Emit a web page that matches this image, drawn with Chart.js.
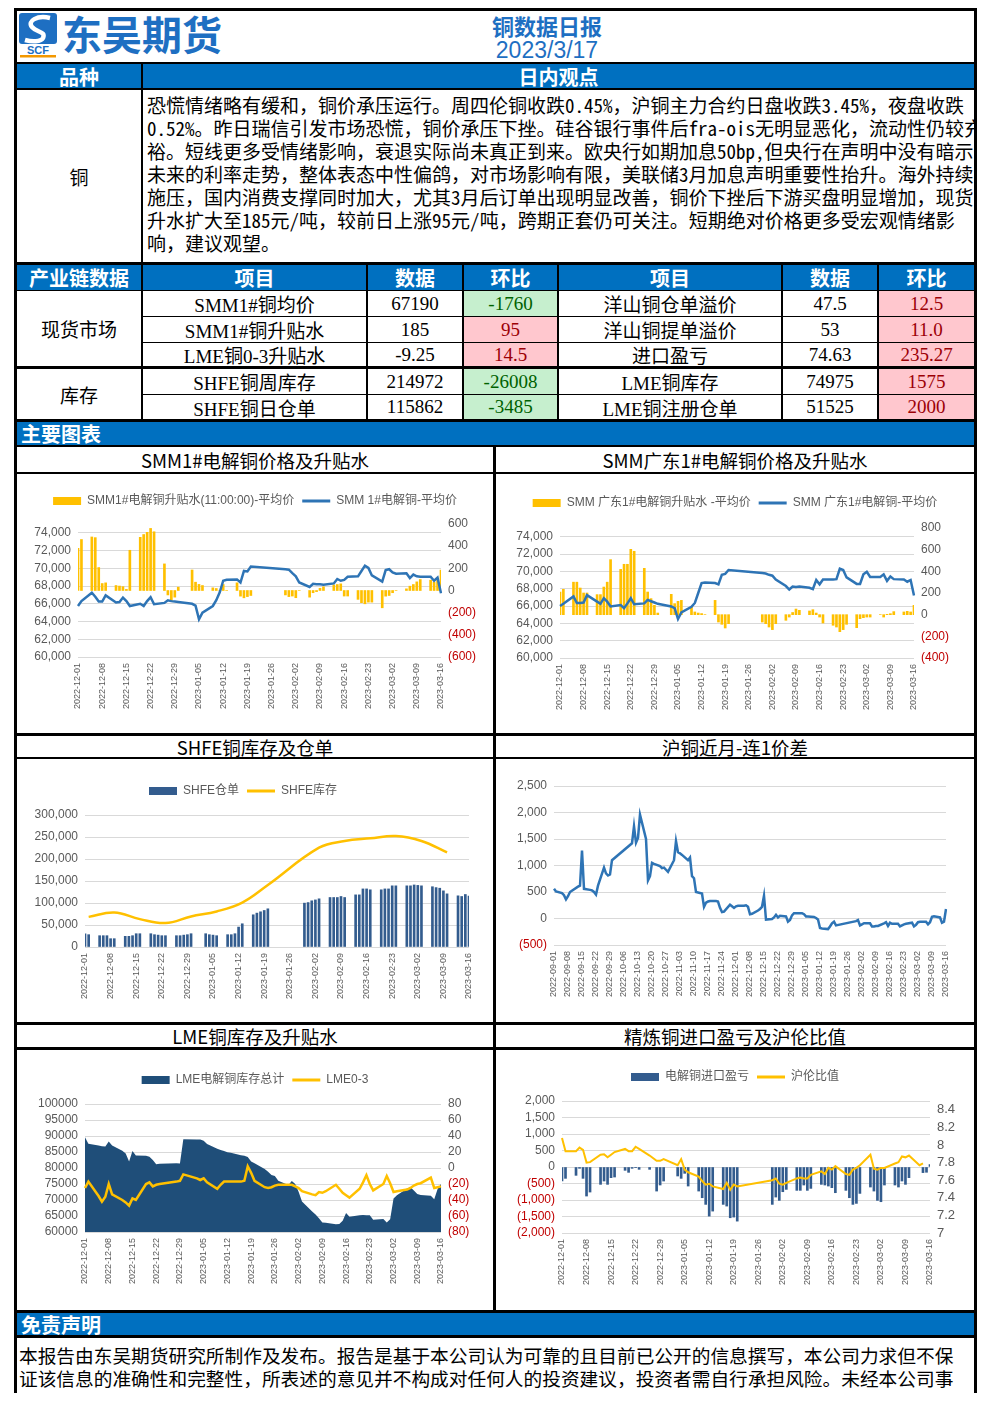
<!DOCTYPE html>
<html lang="zh-CN">
<head>
<meta charset="UTF-8">
<title>铜数据日报 2023/3/17</title>
<script src="https://cdn.jsdelivr.net/npm/chart.js@4.4.1/dist/chart.umd.min.js"></script>
<style>
  html, body { margin: 0; padding: 0; background: #fff; }
  body { position: relative; width: 992px; height: 1403px; overflow: hidden;
         font-family: "Noto Sans CJK SC", "Liberation Sans", sans-serif; color: #000; }
  .frame { position: absolute; left: 14px; top: 8px; width: 963px; height: 1385px; background: #000; }
  .c { position: absolute; background: #fff; box-sizing: border-box; overflow: hidden; white-space: nowrap;
       display: flex; align-items: center; justify-content: center; }
  .band { background: #0070C0; color: #fff; font-weight: bold; font-size: 20px; }
  .band.left { justify-content: flex-start; padding-left: 4px; }
  .title { font-size: 18.5px; }
  .td { font-family: "Liberation Serif", "Noto Sans CJK SC", serif; font-size: 19px; }
  .up { background: #FFC7CE; color: #9C0006; }
  .down { background: #C6EFCE; color: #006100; }
  .lines { display: block; font-size: 19px; line-height: 23px; }
  .hw { font-feature-settings: "hwid" 1; }
  #brand { position: absolute; left: 62px; top: 10px; font-size: 40px; line-height: 46px; font-weight: bold; color: #1E6FC2; }
  #title { position: absolute; left: 447px; width: 200px; top: 12px; text-align: center; font-size: 22px; line-height: 26px; font-weight: bold; color: #1E6FC2; }
  #date { position: absolute; left: 447px; width: 200px; top: 37px; text-align: center; font-family: "Liberation Sans", sans-serif; font-size: 23px; line-height: 26px; color: #1E6FC2; }
  canvas { display: block; }
</style>
</head>
<body>
<div class="frame"></div>

<!-- 抬头 -->
<div class="c" style="left:17px;top:11px;width:957px;height:51px"></div>
<svg style="position:absolute;left:17px;top:12px" width="44" height="46" viewBox="0 0 44 46">
  <rect x="2" y="1" width="38" height="31" rx="3" fill="#1E6FC2"/>
  <path d="M33 6 C20 3, 10 9, 15 15 C20 21, 29 19, 26 26 C24 30, 15 30, 8 28" stroke="#fff" stroke-width="4.5" fill="none"/>
  <text x="21" y="42" font-size="11" font-weight="bold" fill="#1E6FC2" text-anchor="middle" font-family="Liberation Sans">SCF</text>
  <rect x="3" y="43" width="36" height="2.5" fill="#F39800"/>
</svg>
<div id="brand">东吴期货</div>
<div id="title">铜数据日报</div>
<div id="date">2023/3/17</div>

<div class="c band" style="left:17px;top:64px;width:124px;height:24px">品种</div>
<div class="c band" style="left:143px;top:64px;width:831px;height:24px">日内观点</div>
<div class="c" style="left:17px;top:90px;width:124px;height:172px;font-size:19px">铜</div>
<div class="c lines" id="view" style="left:143px;top:90px;width:831px;height:172px;padding:3px 0 0 4px"></div>

<div class="c band left" style="left:17px;top:422px;width:957px;height:23px">主要图表</div>

<div class="c title" style="left:17px;top:447px;width:476px;height:25px">SMM1#电解铜价格及升贴水</div>
<div class="c title" style="left:496px;top:447px;width:478px;height:25px">SMM广东1#电解铜价格及升贴水</div>
<div class="c" style="left:17px;top:474px;width:476px;height:259px"><canvas id="c1" width="476" height="259"></canvas></div>
<div class="c" style="left:496px;top:474px;width:478px;height:259px"><canvas id="c2" width="478" height="259"></canvas></div>

<div class="c title" style="left:17px;top:736px;width:476px;height:21px">SHFE铜库存及仓单</div>
<div class="c title" style="left:496px;top:736px;width:478px;height:21px">沪铜近月-连1价差</div>
<div class="c" style="left:17px;top:759px;width:476px;height:263px"><canvas id="c3" width="476" height="263"></canvas></div>
<div class="c" style="left:496px;top:759px;width:478px;height:263px"><canvas id="c4" width="478" height="263"></canvas></div>

<div class="c title" style="left:17px;top:1025px;width:476px;height:22px">LME铜库存及升贴水</div>
<div class="c title" style="left:496px;top:1025px;width:478px;height:22px">精炼铜进口盈亏及沪伦比值</div>
<div class="c" style="left:17px;top:1050px;width:476px;height:260px"><canvas id="c5" width="476" height="260"></canvas></div>
<div class="c" style="left:496px;top:1050px;width:478px;height:260px"><canvas id="c6" width="478" height="260"></canvas></div>

<div class="c band left" style="left:17px;top:1313px;width:957px;height:22px">免责声明</div>
<div class="c lines" style="left:17px;top:1338px;width:957px;height:65px;padding:5px 0 0 2px;font-size:18.7px">本报告由东吴期货研究所制作及发布。报告是基于本公司认为可靠的且目前已公开的信息撰写，本公司力求但不保<br>证该信息的准确性和完整性，所表述的意见并不构成对任何人的投资建议，投资者需自行承担风险。未经本公司事</div>

<script>
// ================== 数据 ==================
function full(md) {
    return (Number(md.slice(0, 2)) >= 9 ? "2022-" : "2023-") + md;
}

// 日历轴（Excel 日期轴，每 7 天一个刻度）
function calendarDays(from, to) {
    const out = [];
    const d = new Date(from + "T00:00:00Z");
    const end = new Date(to + "T00:00:00Z");
    while (d <= end) {
        out.push(d.toISOString().slice(0, 10));
        d.setUTCDate(d.getUTCDate() + 1);
    }
    return out;
}
const winterAxis = calendarDays("2022-12-01", "2023-03-16");
const spreadAxis = calendarDays("2022-09-01", "2023-03-16");

// 纵轴刻度
const priceTicks = [60000, 62000, 64000, 66000, 68000, 70000, 72000, 74000];
const premTicks1 = [-600, -400, -200, 0, 200, 400, 600];
const premTicks2 = [-400, -200, 0, 200, 400, 600, 800];
const shfeTicks = [0, 50000, 100000, 150000, 200000, 250000, 300000];
const spreadTicks = [-500, 0, 500, 1000, 1500, 2000, 2500];
const lmeTicks = [60000, 65000, 70000, 75000, 80000, 85000, 90000, 95000, 100000];
const lme03Ticks = [-80, -60, -40, -20, 0, 20, 40, 60, 80];
const plTicks = [-2000, -1500, -1000, -500, 0, 500, 1000, 1500, 2000];
const ratioTicks = [7, 7.2, 7.4, 7.6, 7.8, 8, 8.2, 8.4];

// 国内交易日
const cnDays = [
    "12-01","12-02","12-05","12-06","12-07","12-08","12-09","12-12","12-13","12-14","12-15","12-16","12-19","12-20","12-21","12-22","12-23","12-26","12-27","12-28","12-29","12-30",
    "01-03","01-04","01-05","01-06","01-09","01-10","01-11","01-12","01-13","01-16","01-17","01-18","01-19","01-20","01-30","01-31",
    "02-01","02-02","02-03","02-06","02-07","02-08","02-09","02-10","02-13","02-14","02-15","02-16","02-17","02-20","02-21","02-22","02-23","02-24","02-27","02-28",
    "03-01","03-02","03-03","03-06","03-07","03-08","03-09","03-10","03-13","03-14","03-15","03-16"
].map(full);

// LME 交易日
const lmeDays = [
    "12-01","12-02","12-05","12-06","12-07","12-08","12-09","12-12","12-13","12-14","12-15","12-16","12-19","12-20","12-21","12-22","12-23","12-28","12-29","12-30",
    "01-03","01-04","01-05","01-06","01-09","01-10","01-11","01-12","01-13","01-16","01-17","01-18","01-19","01-20","01-23","01-24","01-25","01-26","01-27","01-30","01-31",
    "02-01","02-02","02-03","02-06","02-07","02-08","02-09","02-10","02-13","02-14","02-15","02-16","02-17","02-20","02-21","02-22","02-23","02-24","02-27","02-28",
    "03-01","03-02","03-03","03-06","03-07","03-08","03-09","03-10","03-13","03-14","03-15","03-16"
].map(full);

// 9-11 月交易日（价差图）
const autumnDays = [
    "09-01","09-02","09-05","09-06","09-07","09-08","09-09","09-13","09-14","09-15","09-16","09-19","09-20","09-21","09-22","09-23","09-26","09-27","09-28","09-29","09-30",
    "10-10","10-11","10-12","10-13","10-14","10-17","10-18","10-19","10-20","10-21","10-24","10-25","10-26","10-27","10-28","10-31",
    "11-01","11-02","11-03","11-04","11-07","11-08","11-09","11-10","11-11","11-14","11-15","11-16","11-17","11-18","11-21","11-22","11-23","11-24","11-25","11-28","11-29","11-30"
].map(full);
const spreadDays = autumnDays.concat(cnDays);

// SHFE 周度库存（周五）
const shfeWeekDays = ["12-02","12-09","12-16","12-23","12-30","01-06","01-13","01-20","02-03","02-10","02-17","02-24","03-03","03-10"].map(full);

// 图1 SMM1#
const smm1Price = [
    65750, 66300, 67250, 66800, 66250, 66250, 66950, 66150, 66200, 66700, 66300, 65750, 66000, 65750, 66300, 66750, 65950, 66100, 66400, 66300, 66250, 66200,
    66000, 65800, 64250, 65000, 65750, 66400, 67300, 68600, 68700, 68750, 68400, 69700, 69650, 70200, 69900, 69850,
    69450, 69100, 68400, 67900, 68250, 68200, 68200, 68150, 68300, 68800, 68600, 68700, 69050, 69100, 69700, 70300, 70050, 69200, 68500, 69800,
    69900, 69550, 69400, 69450, 68900, 69300, 69100, 69050, 69050, 68600, 68950, 67190
];
const smm1Premium = [
    380, 460, 483, 477, 207, 63, 69, 45, 40, 35, 10, 363, 480, 505, 525, 560, 530, 240, -40, -100, -60, 30,
    185, 75, 55, 45, 24, 18, 0, 54, 0, 69, -51, -66, -55, -45, -40, -55,
    -50, -65, 0, -60, -20, -10, 20, 33, 50, 54, 60, -50, -50, -80, -110, -120, -105, -105, -156, -51,
    -45, -20, 0, 15, 39, 54, 78, 99, 93, 75, 90, 185
];

// 图2 SMM广东1#
const gdPrice = [
    66000, 66250, 67100, 66350, 66350, 66400, 67250, 66500, 66250, 66900, 66500, 65950, 66100, 65750, 66300, 66900, 66200, 66300, 66700, 66550, 66400, 66250,
    65950, 65750, 64500, 65250, 65900, 66350, 67500, 68650, 68700, 68650, 68500, 69600, 69700, 70150, 69800, 69750,
    69600, 69500, 69050, 68300, 67900, 68250, 68200, 68250, 68100, 67950, 69000, 68500, 69050, 69050, 69100, 70300, 70150, 69300, 68550, 68550,
    69650, 69950, 69350, 69350, 69650, 68900, 69400, 69100, 69050, 68800, 69000, 67200
];
const gdPremium = [
    209, 234, 300, 300, 246, 200, 200, 185, 185, 255, 300, 508, 418, 465, 465, 603, 585, 428, 209, 148, 86, 15,
    188, 102, 123, 132, 71, 25, 15, 10, 0, 132, -68, -89, -123, -83, -68, -83,
    -114, -138, -83, -52, -22, 20, 52, 40, 34, 46, 15, -22, -77, -98, -114, -157, -138, -89, -120, -37,
    -28, -22, -22, 0, -22, 3, 9, 28, 25, 31, 25, 86
];

// 图3 SHFE
const shfeWarrant = [
    30200, 28000, 25700, 25700, 25700, 18900, 18900, 24200, 24200, 25700, 30200, 30200, 30200, 28000, 27000, 25700, 25700, 25700, 25700, 27000, 28000, 30200,
    30200, 28000, 27000, 25700, 28000, 28000, 30200, 45300, 52800, 73200, 77000, 80000, 83000, 86800, 99700, 101000,
    105000, 107000, 109500, 112500, 112500, 112500, 114800, 112500, 118500, 118500, 132000, 132000, 130000, 130000, 132000, 132000, 139000, 139000, 139000, 139000,
    141000, 140000, 139000, 137000, 135000, 133600, 127600, 120800, 116300, 114800, 119350, 115862
];
const shfeStock = [68500, 78500, 63400, 54400, 69500, 80800, 101000, 141000, 225700, 240800, 246900, 252200, 240980, 214972];

// 图4 沪铜近月-连1价差
const spread = [
    560, 510, 480, 440, 360, 420, 500, 600, 620, 1280, 560, 540, 530, 500, 450, 620, 960, 850, 810, 830, 1100,
    1420, 1740, 1430, 1520, 1960, 1500, 720, 800, 1050, 1030, 990, 950, 960, 920, 880, 1100,
    1460, 1250, 1230, 1200, 1100, 1150, 800, 760, 500, 470, 220, 300, 320, 330, 330, 320, 200, 120, 130, 260, 230, 200,
    230, 240, 240, 250, 220, 80, 90, 150, 180, 220, 430, -20, -10, 20, 70, 20, 50, 40, -60, -30, 60, 100,
    100, 80, 40, 40, 30, 10, -20, -180, -190, -200, -150, -90, -60, -130, -50, -30,
    -130, -110, -90, -90, -150, -150, -140, -140, -90, -70, -140, -80, -100, -100, -150, -130, -110, -100, -80, -150,
    -120, -70, -60, -60, -110, -70, 30, 40, 20, -80, -60, 180
];

// 图5 LME
const lmeStock = [
    89600, 87600, 87000, 86800, 86700, 88300, 87000, 85400, 84500, 82000, 85300, 83900, 83800, 83500, 82500, 81200, 81300, 81500, 81400, 89000,
    88900, 88900, 88500, 87500, 86000, 85600, 85300, 84900, 84800, 84000, 83800, 83400, 82000, 81500, 79700, 78800, 77800, 77500, 76000, 74700, 75900,
    75000, 72600, 69500, 66400, 65500, 64300, 63000, 62900, 62400, 62500, 63500, 65900, 64800, 65200, 65300, 65200, 65200, 63800, 64100, 63000,
    64000, 70500, 71500, 73600, 74000, 73000, 71900, 71600, 71300, 70200, 73400, 74975
];
const lme03 = [
    -25, -17, -35, -42, -36, -20, -33, -40, -43, -47, -38, -40, -20, -18, -23, -21, -20, -17, -16, -8,
    -13, -15, -13, -18, -26, -21, -17, -17, -17, -17, -16, 2, -6, -16, -24, -25, -24, -22, -21, -21, -21,
    -23, -25, -29, -33, -34, -30, -31, -29, -21, -26, -31, -34, -37, -26, -18, -9, -20, -28, -20, -10,
    -19, -30, -29, -27, -25, -22, -20, -19, -12, -25, -24, -23
];

// 图6 进口盈亏 / 沪伦比值
const importPL = [
    -425, -344, -253, -40, -344, -880, -759, -526, -425, -526, -324, -304, -101, -162, -40, -10, -71, -71, null, -729, -546, -425,
    -273, -344, -192, -577, -729, -931, -1133, -1488, -1336, -1133, -1184, -1538, -1518, -1640, -1133, -911,
    -1012, -749, -678, -708, -708, -546, -708, -648, -526, -546, -577, -627, -779, -708, -931, -1133, -1103, -800, -607, -729,
    -1012, -1052, -546, -546, -607, -425, -526, -324, null, -170, -160, 75
];
const shLdRatio = [
    8.08, 7.93, 7.93, 7.97, 7.945, 7.80, 7.805, 7.89, 7.895, 7.86, 7.89, 7.92, 7.955, 7.93, 7.93, 7.98, 7.955, 7.88, null, 7.82, 7.82, 7.84,
    7.77, 7.84, 7.72, 7.69, 7.64, 7.59, 7.55, 7.56, 7.53, 7.50, 7.57, 7.49, 7.55, 7.53, 7.60, 7.62,
    7.56, 7.55, 7.57, 7.62, 7.63, 7.62, 7.62, 7.66, 7.70, 7.67, 7.74, 7.72, 7.76, 7.67, 7.66, 7.72, 7.74, 7.77, 7.89, 7.73,
    7.72, 7.74, 7.74, 7.79, 7.805, 7.87, 7.86, 7.88, 7.77, 7.79, null, null
];

// 日内观点
const viewLines = [
    "恐慌情绪略有缓和，铜价承压运行。周四伦铜收跌0.45%，沪铜主力合约日盘收跌3.45%，夜盘收跌",
    "0.52%。昨日瑞信引发市场恐慌，铜价承压下挫。硅谷银行事件后fra-ois无明显恶化，流动性仍较充",
    "裕。短线更多受情绪影响，衰退实际尚未真正到来。欧央行如期加息50bp,但央行在声明中没有暗示",
    "未来的利率走势，整体表态中性偏鸽，对市场影响有限，美联储3月加息声明重要性抬升。海外持续",
    "施压，国内消费支撑同时加大，尤其3月后订单出现明显改善，铜价下挫后下游买盘明显增加，现货",
    "升水扩大至185元/吨，较前日上涨95元/吨，跨期正套仍可关注。短期绝对价格更多受宏观情绪影",
    "响，建议观望。"
];

// 产业链数据
const tableHead = ["产业链数据", "项目", "数据", "环比", "项目", "数据", "环比"];
const tableRows = [
    ["SMM1#铜均价", "67190", "-1760", "洋山铜仓单溢价", "47.5", "12.5"],
    ["SMM1#铜升贴水", "185", "95", "洋山铜提单溢价", "53", "11.0"],
    ["LME铜0-3升贴水", "-9.25", "14.5", "进口盈亏", "74.63", "235.27"],
    ["SHFE铜周库存", "214972", "-26008", "LME铜库存", "74975", "1575"],
    ["SHFE铜日仓单", "115862", "-3485", "LME铜注册仓单", "51525", "2000"]
];
const tableGroups = [["现货市场", 291, 75], ["库存", 369, 50]];

// ================== 表格 ==================
function cell(x, y, w, h, cls, text) {
    const d = document.createElement("div");
    d.className = "c " + cls;
    d.style.cssText = `left:${x}px;top:${y}px;width:${w}px;height:${h}px`;
    d.textContent = text;
    document.body.appendChild(d);
    return d;
}

// 西文字符用半角字形，中文标点保持全角
document.getElementById("view").innerHTML = viewLines
    .map(s => s.replace(/[\x21-\x7E]+/g, m => `<span class="hw">${m}</span>`))
    .join("<br>");

const colX = [17, 143, 368, 464, 559, 783, 879];
const colW = [124, 223, 94, 93, 222, 94, 95];
const rowY = [291, 317, 343, 369, 395];
const rowH = [25, 25, 23, 25, 24];

tableHead.forEach((t, i) => cell(colX[i], 265, colW[i], 25, "band", t));
tableGroups.forEach(g => cell(17, g[1], 124, g[2], "td", g[0]));
tableRows.forEach((r, ri) => {
    r.forEach((t, ci) => {
        let cls = "td";
        if (ci === 2 || ci === 5) cls += Number(t) < 0 ? " down" : " up";
        cell(colX[ci + 1], rowY[ri], colW[ci + 1], rowH[ri], cls, t);
    });
});

// ================== 图表 ==================
Chart.defaults.font.family = "'Liberation Sans', 'Noto Sans CJK SC', sans-serif";
Chart.defaults.font.size = 12;
Chart.defaults.color = "#595959";

const YELLOW = "#FFC000", BLUE = "#2E74B5", NAVY = "#1F4E79", BAR_BLUE = "#335C8E";
const GRID = "#D9D9D9", RED = "#C00000";

const num = v => Math.abs(v).toLocaleString("en-US");
const paren = v => v < 0 ? "(" + num(v) + ")" : num(v);
const parenPlain = v => v < 0 ? "(" + Math.abs(v) + ")" : String(v);
const ratioFmt = v => String(Number(v.toFixed(1)));

const pts = (days, vals) => days.map((d, i) => ({ x: d, y: vals[i] }));

function legendItems(chart) {
    return chart.data.datasets.map((ds, i) => {
        const isLine = ds.type === "line" && !ds.fill;
        return {
            text: ds.label,
            datasetIndex: i,
            fillStyle: isLine ? ds.borderColor : ds.backgroundColor,
            strokeStyle: isLine ? ds.borderColor : ds.backgroundColor,
            lineWidth: isLine ? 3 : 0,
            pointStyle: isLine ? "line" : "rect",
            hidden: false,
            fontColor: "#595959"
        };
    });
}

function xAxis(box) {
    return {
        type: "category",
        offset: false,
        grid: { display: false, drawTicks: false },
        border: { display: false },
        ticks: {
            autoSkip: false, minRotation: 90, maxRotation: 90, padding: 6,
            font: { size: 9 },
            callback(v, i) { return i % 7 === 0 ? this.getLabelForValue(v) : ""; }
        },
        afterFit: s => { s.height = box.H - box.b; }
    };
}

function yAxis(side, box, min, max, tickValues, fmt, font) {
    const axis = {
        position: side, min, max,
        grid: { display: side === "left", drawTicks: false, color: GRID },
        border: { display: false },
        ticks: {
            autoSkip: false, padding: 7, callback: fmt,
            color: ctx => ctx.tick && ctx.tick.value < 0 ? RED : "#595959"
        },
        // 刻度直接取自刻度数组
        afterBuildTicks: ax => {
            ax.ticks = tickValues.map(v => ({ value: v }));
            ax.min = min;
            ax.max = max;
        },
        afterFit: s => { s.width = side === "left" ? box.l : box.W - box.r; }
    };
    if (font) axis.ticks.font = font;
    return axis;
}

function makeChart(id, box, labels, datasets, scales) {
    const legendOn = box.c !== undefined;
    const padTop = legendOn ? box.c - 14 : box.t;
    const hasRight = !!scales.y2;
    return new Chart(document.getElementById(id), {
        type: "bar",
        data: { labels, datasets },
        options: {
            responsive: false,
            animation: false,
            devicePixelRatio: 1,
            layout: { padding: { top: padTop, left: 0, bottom: 0, right: hasRight ? 0 : box.W - box.r } },
            plugins: {
                legend: {
                    display: legendOn,
                    position: "top",
                    labels: {
                        usePointStyle: true, pointStyleWidth: 28, boxHeight: 8, padding: 8,
                        color: "#595959", font: { size: 12 }, generateLabels: legendItems
                    }
                },
                tooltip: { enabled: false }
            },
            scales
        },
        plugins: [{
            id: "fixedLegend",
            beforeInit(chart) {
                if (!legendOn || !chart.legend) return;
                const fit = chart.legend.fit;
                chart.legend.fit = function () {
                    fit.call(this);
                    this.height = box.t - padTop;
                };
            }
        }]
    });
}

const lineDs = (label, data, color, axis, extra) => Object.assign({
    type: "line", label, data, yAxisID: axis, borderColor: color, backgroundColor: color,
    borderWidth: 2.5, pointRadius: 0, pointHoverRadius: 0, spanGaps: true, tension: 0, order: 0
}, extra || {});
const barDs = (label, data, color, axis) => ({
    type: "bar", label, data, yAxisID: axis, backgroundColor: color, barThickness: 2, order: 1
});

// 图1 SMM1#电解铜价格及升贴水
const b1 = { W: 476, H: 259, l: 61, r: 424, t: 50, b: 183, c: 27 };
makeChart("c1", b1, winterAxis, [
    barDs("SMM1#电解铜升贴水(11:00:00)-平均价", pts(cnDays, smm1Premium), YELLOW, "y2"),
    lineDs("SMM 1#电解铜-平均价", pts(cnDays, smm1Price), BLUE, "y")
], {
    x: xAxis(b1),
    y: yAxis("left", b1, 60000, 75000, priceTicks, num),
    y2: yAxis("right", b1, -600, 600, premTicks1, paren)
});

// 图2 SMM广东1#电解铜价格及升贴水
const b2 = { W: 478, H: 259, l: 64, r: 418, t: 54, b: 184, c: 29 };
makeChart("c2", b2, winterAxis, [
    barDs("SMM 广东1#电解铜升贴水 -平均价", pts(cnDays, gdPremium), YELLOW, "y2"),
    lineDs("SMM 广东1#电解铜-平均价", pts(cnDays, gdPrice), BLUE, "y")
], {
    x: xAxis(b2),
    y: yAxis("left", b2, 60000, 75000, priceTicks, num),
    y2: yAxis("right", b2, -400, 800, premTicks2, paren)
});

// 图3 SHFE铜库存及仓单
const b3 = { W: 476, H: 263, l: 68, r: 452, t: 56, b: 188, c: 32 };
makeChart("c3", b3, winterAxis, [
    barDs("SHFE仓单", pts(cnDays, shfeWarrant), BAR_BLUE, "y"),
    lineDs("SHFE库存", pts(shfeWeekDays, shfeStock), YELLOW, "y", { tension: 0.4 })
], {
    x: xAxis(b3),
    y: yAxis("left", b3, 0, 300000, shfeTicks, num)
});

// 图4 沪铜近月-连1价差
const b4 = { W: 478, H: 263, l: 58, r: 450, t: 27, b: 186 };
makeChart("c4", b4, spreadAxis, [
    lineDs("沪铜近月-连1价差", pts(spreadDays, spread), BLUE, "y")
], {
    x: xAxis(b4),
    y: yAxis("left", b4, -500, 2500, spreadTicks, paren)
});

// 图5 LME铜库存及升贴水
const b5 = { W: 476, H: 260, l: 68, r: 424, t: 54, b: 182, c: 30 };
makeChart("c5", b5, winterAxis, [
    lineDs("LME电解铜库存总计", pts(lmeDays, lmeStock), NAVY, "y", { fill: "start", borderWidth: 0, order: 1 }),
    lineDs("LME0-3", pts(lmeDays, lme03), YELLOW, "y2")
], {
    x: xAxis(b5),
    y: yAxis("left", b5, 60000, 100000, lmeTicks, String),
    y2: yAxis("right", b5, -80, 80, lme03Ticks, parenPlain)
});

// 图6 精炼铜进口盈亏及沪伦比值
const b6 = { W: 478, H: 260, l: 66, r: 434, t: 51, b: 183, c: 27 };
makeChart("c6", b6, winterAxis, [
    barDs("电解铜进口盈亏", pts(cnDays, importPL), BAR_BLUE, "y"),
    lineDs("沪伦比值", pts(cnDays, shLdRatio), YELLOW, "y2", { borderWidth: 2 })
], {
    x: xAxis(b6),
    y: yAxis("left", b6, -2000, 2000, plTicks, paren),
    y2: yAxis("right", b6, 7, 8.5, ratioTicks, ratioFmt, { size: 13 })
});
</script>
</body>
</html>
